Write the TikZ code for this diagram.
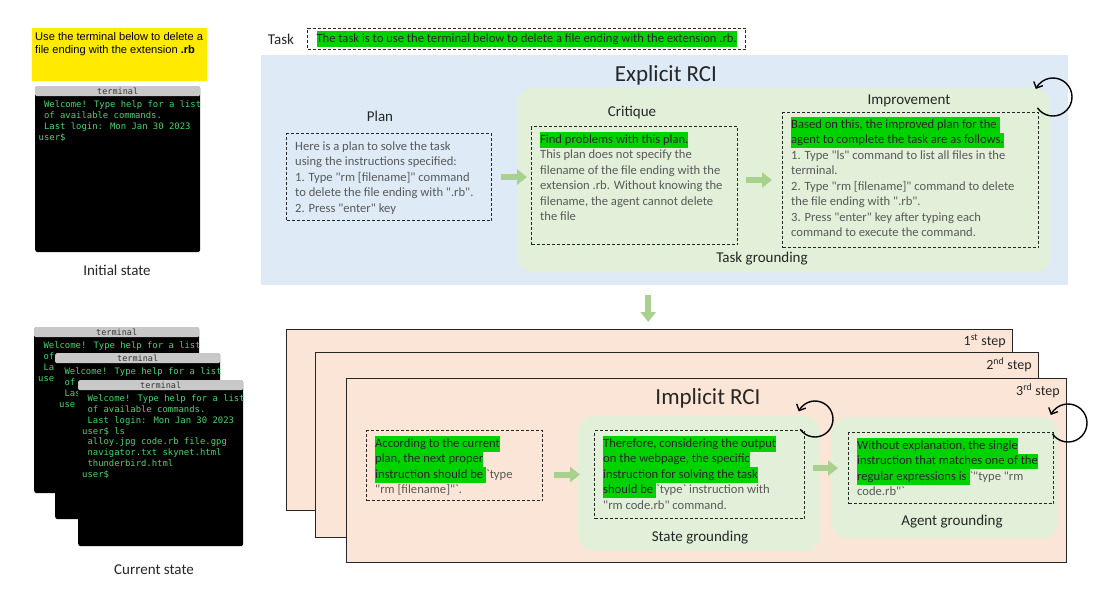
\documentclass[tikz,border=0pt]{standalone}
\usepackage{fontspec}
\usepackage{xcolor}
\usepackage{tikz}
\usetikzlibrary{positioning,arrows.meta}

\newfontfamily\calibri{Carlito}
\newfontfamily\arialfont{Liberation Sans}
\newfontfamily\termfont{DejaVu Sans Mono}

\definecolor{panelblue}{HTML}{DEEBF7}
\definecolor{panelgreen}{HTML}{E2F0D9}
\definecolor{panelpeach}{HTML}{FBE5D6}
\definecolor{arrowgreen}{HTML}{A9D18E}
\definecolor{hlgreen}{HTML}{00D200}
\definecolor{txtgray}{HTML}{595959}
\definecolor{termgreen}{HTML}{45D66E}
\definecolor{termgray}{HTML}{C8C8C8}
\definecolor{noteyellow}{HTML}{FFEA00}

\newcommand{\hl}[1]{{\setlength{\fboxsep}{0pt}\colorbox{hlgreen}{\strut\color{black!85}#1}}}
\newcommand{\tsp}{\hphantom{x}}
\newcommand{\boxfont}{\calibri\fontsize{12.6}{15.5}\selectfont}

\tikzset{
  panel/.style={anchor=north west, inner sep=0pt},
  dashbox/.style={draw=black!85, dash pattern=on 3pt off 2pt, line width=1.1pt, anchor=north west, inner sep=0pt},
  boxtext/.style={inner sep=0pt, align=left, text=txtgray, font=\boxfont},
  headtext/.style={inner sep=0pt, font=\calibri\fontsize{15}{18}\selectfont, text=black!85},
  bigtext/.style={inner sep=0pt, font=\calibri\fontsize{23}{27}\selectfont, text=black!85},
  steplabel/.style={inner sep=0pt, font=\calibri\fontsize{14}{16}\selectfont, text=black!85},
  termbody/.style={panel, fill=black, rounded corners=2.5pt, minimum width=165, minimum height=166},
  termbar/.style={panel, fill=termgray, rounded corners=1.5pt, minimum width=165, minimum height=10, font=\termfont\fontsize{8.5}{9}\selectfont, text=black!80},
  termtext/.style={inner sep=0pt, align=left, text=termgreen, font=\termfont\fontsize{8.9}{10.8}\selectfont},
  steppanel/.style={panel, fill=panelpeach, draw=black!85, line width=0.8pt},
  garrow/.style={draw=arrowgreen, line width=6pt, -{Triangle[length=10pt,width=15pt]}},
  cyclearrow/.style={draw=black, line width=1.4pt, -{Straight Barb[length=5pt,width=10pt]}}
}

\begin{document}
\begin{tikzpicture}[x=1pt,y=-1pt]
\useasboundingbox (0,0) rectangle (1101,611);
\fill[white] (0,0) rectangle (1101,611);

% initial state
\node[panel, fill=noteyellow, minimum width=175, minimum height=53] (note) at (32,28) {};
\node[inner sep=0pt, align=left, font=\arialfont\fontsize{11.1}{13}\selectfont, below right=4pt and 3pt of note.north west] (notetext) {Use the terminal below to delete a\\file ending with the extension \textbf{.rb}};

\node[termbody] (t0) at (35,86) {};
\node[termbar] (t0bar) at (35,86) {terminal};
\node[termtext, below right=3.5pt and 3.5pt of t0bar.south west] (t0text) {\strut\tsp Welcome! Type help for a list\\\tsp of available commands.\\\tsp Last login: Mon Jan 30 2023\\user\$};
\node[headtext] (initial) at (117,270) {Initial state};

% current state (back terminals only show their visible part)
\node[termbody] (t1) at (34,327) {};
\node[termbar] (t1bar) at (34,327) {terminal};
\node[termtext, below right=3.5pt and 4pt of t1bar.south west] (t1text) {\strut\tsp Welcome! Type help for a list\\\tsp of\\\tsp La\\use};

\node[termbody] (t2) at (55,353) {};
\node[termbar] (t2bar) at (55,353) {terminal};
\node[termtext, below right=3.5pt and 4pt of t2bar.south west] (t2text) {\strut\tsp Welcome! Type help for a list\\\tsp of\\\tsp Las\\use};

\node[termbody] (t3) at (78,380) {};
\node[termbar] (t3bar) at (78,380) {terminal};
\node[termtext, below right=3.5pt and 4pt of t3bar.south west] (t3text) {\strut\tsp Welcome! Type help for a list\\\tsp of available commands.\\\tsp Last login: Mon Jan 30 2023\\user\$ ls\\\tsp alloy.jpg code.rb file.gpg\\\tsp navigator.txt skynet.html\\\tsp thunderbird.html\\user\$};
\node[headtext] (current) at (154,570) {Current state};

% task
\node[headtext] (tasklabel) at (281,39) {Task};
\node[dashbox, anchor=west, inner xsep=9pt, inner ysep=3pt, font=\boxfont] (task) at (307,39) {\hl{The task is to use the terminal below to delete a file ending with the extension .rb.}};

% explicit RCI
\node[panel, fill=panelblue, minimum width=807, minimum height=230] (explicit) at (261,55) {};
\node[bigtext] (expltitle) at (666,75) {Explicit RCI};
\node[panel, fill=panelgreen, rounded corners=16pt, minimum width=533, minimum height=184] (taskground) at (517,88) {};

\node[dashbox, minimum width=205, minimum height=87] (plan) at (286,133) {};
\node[headtext] (plantitle) at (380,116) {Plan};
\node[boxtext, below right=6pt and 9pt of plan.north west] (plantext) {\strut Here is a plan to solve the task\\using the instructions specified:\\1. Type "rm [filename]" command\\to delete the file ending with ".rb".\\2. Press "enter" key};

\node[dashbox, minimum width=206, minimum height=118] (crit) at (531,126) {};
\node[headtext] (crittitle) at (632,113) {Critique};
\node[boxtext, below right=6pt and 9pt of crit.north west] (crittext) {\hl{Find problems with this plan.}\\This plan does not specify the\\filename of the file ending with the\\extension .rb. Without knowing the\\filename, the agent cannot delete\\the file};

\node[dashbox, minimum width=256, minimum height=135] (imp) at (782,112) {};
\node[headtext] (imptitle) at (909,101) {Improvement};
\node[boxtext, below right=5pt and 9pt of imp.north west] (imptext) {\hl{Based on this, the improved plan for the }\\\hl{agent to complete the task are as follows.}\\1. Type "ls" command to list all files in the\\terminal.\\2. Type "rm [filename]" command to delete\\the file ending with ".rb".\\3. Press "enter" key after typing each\\command to execute the command.};

\node[headtext] (tasktitle) at (762,259) {Task grounding};

\draw[garrow, shorten <=9pt, shorten >=4pt] (plan.east) -- (plan.east -| crit.west);
\draw[garrow, shorten <=8pt, shorten >=10pt] (imp.west -| crit.east) -- (imp.west);

\coordinate (explcycle) at (1053,97);
\draw[cyclearrow] ([shift={(215:19pt)}]explcycle) arc[start angle=215, end angle=515, radius=19pt];

% implicit RCI
\node[steppanel, minimum width=726, minimum height=181] (step1) at (286,329) {};
\node[steplabel, below left=5pt and 7pt of step1.north east] (step1label) {1\textsuperscript{st} step};
\node[steppanel, minimum width=723, minimum height=185] (step2) at (315,352) {};
\node[steplabel, below left=5pt and 7pt of step2.north east] (step2label) {2\textsuperscript{nd} step};
\node[steppanel, minimum width=720, minimum height=184] (step3) at (346,378) {};
\node[steplabel, below left=5pt and 7pt of step3.north east] (step3label) {3\textsuperscript{rd} step};

\coordinate (downstart) at ([xshift=-16.5pt]explicit.south);
\draw[garrow, shorten <=10pt, shorten >=7pt] (downstart) -- (downstart |- step1.north);

\node[bigtext] (impltitle) at (708,398) {Implicit RCI};

\node[dashbox, minimum width=176, minimum height=70] (cur) at (366,430) {};
\node[boxtext, below right=6pt and 9pt of cur.north west] (curtext) {\hl{According to the current}\\\hl{plan, the next proper}\\\hl{instruction should be }\textasciigrave type\\"rm [filename]"\textasciigrave.};

\node[panel, fill=panelgreen, rounded corners=16pt, minimum width=242, minimum height=135] (stateground) at (578,416) {};
\node[dashbox, minimum width=210, minimum height=88] (statebox) at (594,430) {};
\node[boxtext, below right=6pt and 9pt of statebox.north west] (statetext) {\hl{Therefore, considering the output}\\\hl{on the webpage, the specific}\\\hl{instruction for solving the task}\\\hl{should be }\textasciigrave type\textasciigrave{} instruction with\\"rm code.rb" command.};
\node[headtext] (statetitle) at (700,538) {State grounding};

\node[panel, fill=panelgreen, rounded corners=16pt, minimum width=227, minimum height=121] (agentground) at (831,417) {};
\node[dashbox, minimum width=205, minimum height=71] (agentbox) at (848,432) {};
\node[boxtext, below right=6pt and 9pt of agentbox.north west] (agenttext) {\hl{Without explanation, the single}\\\hl{instruction that matches one of the}\\\hl{regular expressions is }\textasciigrave"type "rm\\code.rb"\textasciigrave};
\node[headtext] (agenttitle) at (952,522) {Agent grounding};

\draw[garrow, shorten <=11pt, shorten >=14pt] (statebox.west -| cur.east) -- (statebox.west);
\draw[garrow, shorten <=8pt, shorten >=10pt] (agentbox.west -| statebox.east) -- (agentbox.west);

\coordinate (statecycle) at (815,419);
\draw[cyclearrow] ([shift={(215:18pt)}]statecycle) arc[start angle=215, end angle=515, radius=18pt];
\coordinate (agentcycle) at (1068,423);
\draw[cyclearrow] ([shift={(215:19pt)}]agentcycle) arc[start angle=215, end angle=515, radius=19pt];

\end{tikzpicture}
\end{document}
